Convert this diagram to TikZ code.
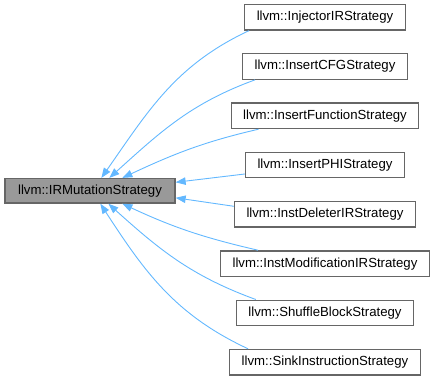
\documentclass[tikz,border=0pt]{standalone}
\usepackage{fontspec}
\setmainfont{Liberation Sans}
\usepackage{xcolor}
\usetikzlibrary{arrows.meta}

\definecolor{edgeblue}{HTML}{63B8FF}
\definecolor{boxgray}{HTML}{666666}
\definecolor{basefill}{HTML}{999999}

\begin{document}
\begin{tikzpicture}[x=1pt, y=1pt,
  font=\fontsize{13.2}{15}\selectfont,
  cls/.style={draw=boxgray, line width=1.3pt, fill=white, inner xsep=12pt, inner ysep=0pt, minimum height=25.5pt},
  basecls/.style={cls, fill=basefill, minimum width=170pt, minimum height=24.5pt},
  inherit/.style={draw=edgeblue, line width=0.9pt, -{Triangle[length=10pt, width=7.5pt]}}]
\useasboundingbox (0,0) rectangle (435,380);
\node[basecls] (base) at (90,189.2) {llvm::IRMutationStrategy};
\node[cls] (injector) at (325,362.8) {llvm::InjectorIRStrategy};
\node[cls] (cfg) at (325,313.5) {llvm::InsertCFGStrategy};
\node[cls] (func) at (325,264.2) {llvm::InsertFunctionStrategy};
\node[cls] (phi) at (325,215.0) {llvm::InsertPHIStrategy};
\node[cls] (deleter) at (325,165.7) {llvm::InstDeleterIRStrategy};
\node[cls] (modif) at (325,116.4) {llvm::InstModificationIRStrategy};
\node[cls] (shuffle) at (325,67.1) {llvm::ShuffleBlockStrategy};
\node[cls] (sink) at (325,17.8) {llvm::SinkInstructionStrategy};
% upper half: into the top of the base class
\draw[inherit] ([xshift=5pt]injector.south west) to[out=205, in=55] ([xshift=97pt]base.north west);
\draw[inherit] ([xshift=13pt]cfg.south west) to[out=200, in=42] ([xshift=105pt]base.north west);
\draw[inherit] ([xshift=28pt]func.south west) to[out=193, in=25] ([xshift=118pt]base.north west);
\draw[inherit] ([yshift=-9pt]phi.west) -- ([yshift=8.5pt]base.east);
% lower half
\draw[inherit] ([yshift=8pt]deleter.west) -- ([yshift=-7pt]base.east);
\draw[inherit] ([xshift=38pt]modif.north west) to[out=167, in=-25] ([xshift=118pt]base.south west);
\draw[inherit] ([xshift=20pt]shuffle.north west) to[out=160, in=-42] ([xshift=104pt]base.south west);
\draw[inherit] ([xshift=19pt]sink.north west) to[out=155, in=-57] ([xshift=96pt]base.south west);
\end{tikzpicture}
\end{document}
